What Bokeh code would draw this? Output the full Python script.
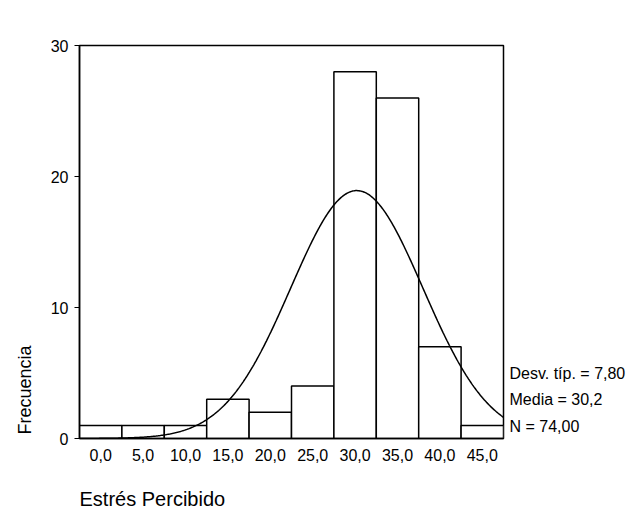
import numpy as np
from bokeh.plotting import figure
from bokeh.models import FixedTicker, Range1d, LinearAxis, Title
from bokeh.embed import file_html
from bokeh.resources import INLINE

# Data
bin_centers = [0, 5, 10, 15, 20, 25, 30, 35, 40, 45]
counts = [1, 1, 1, 3, 2, 4, 28, 26, 7, 1]
bin_width = 5
x_tick_labels = ["0,0", "5,0", "10,0", "15,0", "20,0", "25,0", "30,0", "35,0", "40,0", "45,0"]
y_ticks = [0, 10, 20, 30]
std_dev = 7.80
mean = 30.2
n_total = 74
stat_texts = ["Desv. típ. = 7,80", "Media = 30,2", "N = 74,00"]
stat_positions = [4.96, 2.98, 0.92]
x_title = "Estrés Percibido"
y_title = "Frecuencia"

FONT = "Liberation Sans"

p = figure(width=637, height=512, output_backend="svg", toolbar_location=None,
           x_range=Range1d(-2.5, 47.5), y_range=Range1d(0, 30),
           min_border_left=78, min_border_right=134, min_border_top=45, min_border_bottom=74)
p.grid.visible = False
p.background_fill_color = "white"
p.border_fill_color = "white"
p.outline_line_color = "black"
p.outline_line_width = 1.5

p.quad(left=[c - bin_width / 2 for c in bin_centers], right=[c + bin_width / 2 for c in bin_centers],
       bottom=0, top=counts, fill_color="white", line_color="black", line_width=1.5)

# fitted normal curve from the shown statistics
xs = np.linspace(-2.5, 47.5, 400)
ys = n_total * bin_width / (std_dev * np.sqrt(2 * np.pi)) * np.exp(-0.5 * ((xs - mean) / std_dev) ** 2)
p.line(xs, ys, line_color="black", line_width=1.5)

for ax in (p.xaxis[0], p.yaxis[0]):
    ax.axis_line_color = "black"
    ax.axis_line_width = 1.5
    ax.major_tick_line_color = "black"
    ax.major_tick_out = 5
    ax.major_tick_in = 0
    ax.minor_tick_line_color = None
    ax.major_label_text_font = FONT
    ax.major_label_text_font_size = "16px"
    ax.major_label_text_color = "black"

xax = p.xaxis[0]
xax.ticker = FixedTicker(ticks=bin_centers)
xax.major_label_overrides = {c: l for c, l in zip(bin_centers, x_tick_labels)}
xax.major_tick_line_color = None
xax.major_tick_out = 0
xax.major_label_standoff = 10
p.yaxis.ticker = FixedTicker(ticks=y_ticks)
p.yaxis.major_label_standoff = 6

# x axis title under the axis, starting at the frame's left edge
title_pos = -2.5 + 73 / 8.5
title_axis = LinearAxis(ticker=FixedTicker(ticks=[title_pos]),
                        major_label_overrides={title_pos: x_title},
                        axis_line_color=None, major_tick_line_color=None, minor_tick_line_color=None,
                        major_tick_out=0, major_tick_in=0, major_label_standoff=24,
                        major_label_text_font=FONT, major_label_text_font_size="20px",
                        major_label_text_color="black")
p.add_layout(title_axis, "below")

# statistics text at the right
stat_axis = LinearAxis(ticker=FixedTicker(ticks=stat_positions),
                       major_label_overrides={v: t for v, t in zip(stat_positions, stat_texts)},
                       axis_line_color=None, major_tick_line_color=None, minor_tick_line_color=None,
                       major_tick_out=0, major_tick_in=0,
                       major_label_standoff=6, major_label_text_font=FONT,
                       major_label_text_font_size="16px", major_label_text_color="black")
p.add_layout(stat_axis, "right")

p.add_layout(Title(text=y_title, align="left", text_font=FONT, text_font_size="18px",
                   text_font_style="normal", text_color="black", standoff=25, offset=4), "left")

open("out.html", "w").write(file_html(p, INLINE))
